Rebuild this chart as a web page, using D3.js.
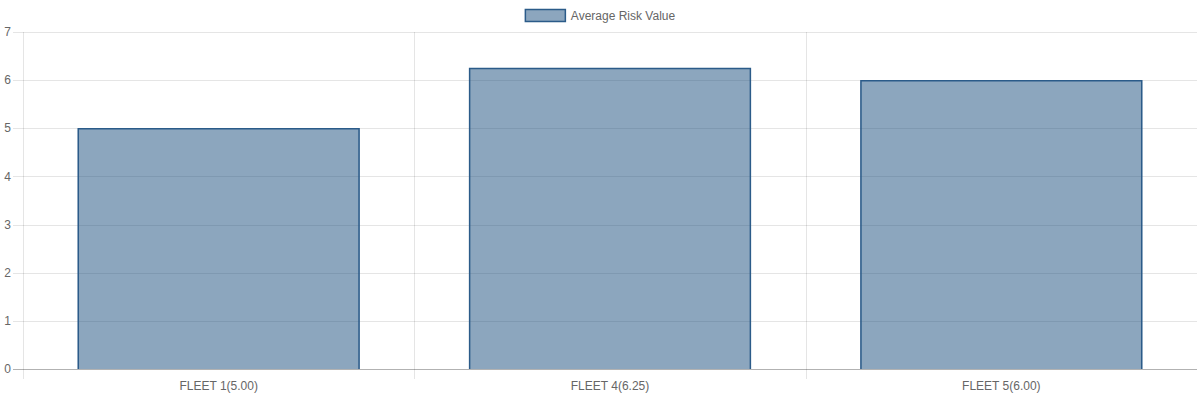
<!DOCTYPE html>
<html>
<head>
<meta charset="utf-8">
<script src="https://cdn.jsdelivr.net/npm/d3@7"></script>
<style>
html,body{margin:0;padding:0;background:#fff;}
svg{display:block;font-family:"Liberation Sans",Arial,Helvetica,sans-serif;}
</style>
</head>
<body>
<svg id="chart" width="1200" height="400"></svg>
<script>
const categories = ["FLEET 1(5.00)", "FLEET 4(6.25)", "FLEET 5(6.00)"];
const values = [5.00, 6.25, 6.00];
const yTicks = [0, 1, 2, 3, 4, 5, 6, 7];
const seriesName = "Average Risk Value";

const W = 1200, H = 400;
const m = {left: 23, right: 3, top: 32, bottom: 31};
const svg = d3.select("#chart");
const fill = "rgba(25,77,125,0.5)";
const stroke = "#2b5b89";
const textColor = "#666";

const x = d3.scaleBand().domain(categories).range([m.left, W - m.right]).paddingInner(0).paddingOuter(0);
const y = d3.scaleLinear().domain([0, 7]).range([H - m.bottom, m.top]);

// horizontal gridlines
const g = svg.append("g");
g.selectAll("line.hg").data(yTicks.filter(t => t !== 0)).enter().append("line")
  .attr("x1", m.left - 10).attr("x2", W - m.right)
  .attr("y1", d => Math.round(y(d)) + 0.5).attr("y2", d => Math.round(y(d)) + 0.5)
  .attr("stroke", "rgba(0,0,0,0.1)").attr("stroke-width", 1);

// vertical gridlines (category boundaries)
const bounds = categories.map(c => x(c));
g.selectAll("line.vg").data(bounds).enter().append("line")
  .attr("x1", d => Math.round(d) + 0.5).attr("x2", d => Math.round(d) + 0.5)
  .attr("y1", m.top).attr("y2", H - m.bottom + 10)
  .attr("stroke", "rgba(0,0,0,0.1)").attr("stroke-width", 1);

// bars
const barW = x.bandwidth() * 0.72;
svg.append("g").selectAll("rect").data(values).enter().append("rect")
  .attr("x", (d, i) => x(categories[i]) + (x.bandwidth() - barW) / 2)
  .attr("width", barW)
  .attr("y", d => y(d))
  .attr("height", d => y(0) - y(d))
  .attr("fill", fill);
svg.append("g").selectAll("path").data(values).enter().append("path")
  .attr("d", (d, i) => {
    const x0 = x(categories[i]) + (x.bandwidth() - barW) / 2 + 0.5;
    const x1 = x0 + barW - 1;
    const yt = y(d) + 0.5;
    const yb = y(0);
    return `M${x0},${yb}L${x0},${yt}L${x1},${yt}L${x1},${yb}`;
  })
  .attr("fill", "none").attr("stroke", stroke).attr("stroke-width", 1.5);

// zero line
svg.append("line")
  .attr("x1", m.left - 10).attr("x2", W - m.right)
  .attr("y1", Math.round(y(0)) + 0.5).attr("y2", Math.round(y(0)) + 0.5)
  .attr("stroke", "rgba(0,0,0,0.3)").attr("stroke-width", 1);

// y tick labels
svg.append("g").selectAll("text").data(yTicks).enter().append("text")
  .attr("x", m.left - 12).attr("y", d => y(d))
  .attr("dy", "0.35em").attr("text-anchor", "end")
  .attr("font-size", 12).attr("fill", textColor)
  .text(d => d);

// x tick labels
svg.append("g").selectAll("text").data(categories).enter().append("text")
  .attr("x", d => x(d) + x.bandwidth() / 2).attr("y", H - m.bottom + 17)
  .attr("dy", "0.35em").attr("text-anchor", "middle")
  .attr("font-size", 12).attr("fill", textColor)
  .text(d => d);

// legend
const lg = svg.append("g");
const legText = lg.append("text").attr("font-size", 12).attr("fill", textColor).text(seriesName);
const tw = legText.node().getComputedTextLength();
const totalW = 40 + 6 + tw;
const lx = (W - totalW) / 2;
lg.append("rect").attr("x", lx + 0.5).attr("y", 9.5).attr("width", 40).attr("height", 12)
  .attr("fill", fill).attr("stroke", stroke).attr("stroke-width", 1.5);
legText.attr("x", lx + 46).attr("y", 15.5).attr("dy", "0.35em");
</script>
</body>
</html>
